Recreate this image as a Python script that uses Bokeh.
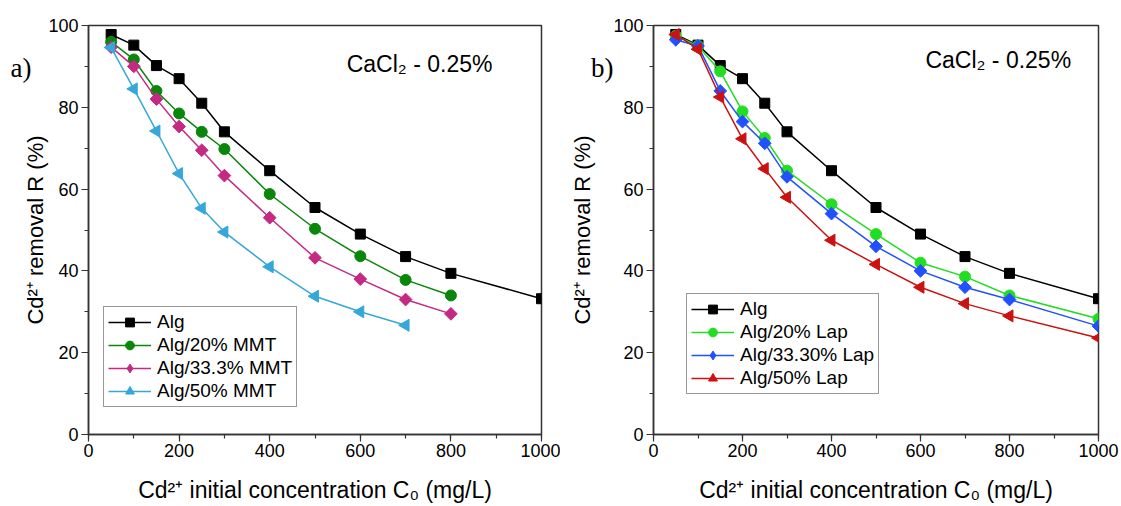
import numpy as np
from bokeh.plotting import figure
from bokeh.layouts import row
from bokeh.models import Range1d, Label, Legend, LegendItem, FixedTicker, LinearAxis
from bokeh.embed import file_html
from bokeh.resources import INLINE

# ---- data ----
c0_full = [50, 100, 150, 200, 250, 300, 400, 500, 600, 700, 800, 1000]
c0_800 = [50, 100, 150, 200, 250, 300, 400, 500, 600, 700, 800]
c0_700 = [50, 100, 150, 200, 250, 300, 400, 500, 600, 700]

alg = [97.8, 95.2, 90.2, 87.0, 81.0, 74.0, 64.5, 55.5, 49.0, 43.5, 39.4, 33.2]
alg_mmt20 = [96.0, 91.7, 84.0, 78.5, 74.0, 69.8, 58.8, 50.3, 43.6, 37.8, 34.0]
alg_mmt33 = [94.7, 90.0, 82.0, 75.3, 69.5, 63.3, 53.0, 43.2, 38.0, 33.0, 29.5]
alg_mmt50 = [94.6, 84.5, 74.2, 63.8, 55.3, 49.5, 41.0, 33.8, 30.0, 26.7]

alg_lap20 = [97.5, 95.0, 88.8, 79.0, 72.5, 64.5, 56.3, 49.0, 42.0, 38.6, 34.0, 28.3]
alg_lap33 = [96.5, 95.0, 84.0, 76.5, 71.2, 63.0, 54.0, 46.0, 40.0, 36.0, 33.0, 26.5]
alg_lap50 = [97.8, 94.2, 82.5, 72.3, 65.0, 58.0, 47.5, 41.6, 36.0, 32.0, 29.0, 23.6]

x_ticks = [0, 200, 400, 600, 800, 1000]
y_ticks = [0, 20, 40, 60, 80, 100]

FONT = "Liberation Sans"
X_TITLE = "Cd\u00b2\u207a initial concentration C\u2080 (mg/L)"
Y_TITLE = "Cd\u00b2\u207a removal R (%)"


def make_fig(width, bl, br, bt, bb):
    p = figure(width=width, height=506, output_backend="svg", toolbar_location=None,
               x_range=Range1d(0, 1000), y_range=Range1d(0, 100),
               min_border_left=bl, min_border_right=br, min_border_top=bt, min_border_bottom=bb)
    p.grid.visible = False
    p.background_fill_color = "white"
    p.border_fill_color = "white"
    p.outline_line_color = "#333333"
    p.outline_line_width = 1.5
    for ax in (p.xaxis[0], p.yaxis[0]):
        ax.axis_line_color = "#333333"
        ax.axis_line_width = 1.5
        ax.major_tick_line_color = "#333333"
        ax.minor_tick_line_color = "#333333"
        ax.major_tick_line_width = 1.2
        ax.minor_tick_line_width = 1.2
        ax.major_tick_in = 0
        ax.major_tick_out = 7
        ax.minor_tick_in = 0
        ax.minor_tick_out = 4
        ax.major_label_text_font = FONT
        ax.major_label_text_font_size = "18px"
        ax.major_label_text_color = "black"
        ax.axis_label_text_font = FONT
        ax.axis_label_text_font_style = "normal"
        ax.axis_label_text_color = "black"
    p.xaxis[0].axis_label_text_font_size = "23px"
    p.yaxis[0].axis_label_text_font_size = "22px"
    p.xaxis[0].ticker = FixedTicker(ticks=x_ticks, minor_ticks=list(range(0, 1001, 100)))
    p.yaxis[0].ticker = FixedTicker(ticks=y_ticks, minor_ticks=list(range(0, 101, 10)))
    p.xaxis[0].axis_label = X_TITLE
    p.xaxis[0].major_label_standoff = 2
    p.xaxis[0].axis_label_standoff = 17
    p.yaxis[0].major_label_standoff = 3
    p.yaxis[0].axis_label_standoff = -3
    return p


def letter_axis(letter, y_val, standoff):
    ax = LinearAxis(ticker=FixedTicker(ticks=[y_val], minor_ticks=[]),
                    major_label_overrides={y_val: letter})
    ax.axis_line_color = None
    ax.major_tick_line_color = None
    ax.minor_tick_line_color = None
    ax.major_tick_out = 0
    ax.major_tick_in = 0
    ax.major_label_standoff = standoff
    ax.major_label_text_font = "Liberation Serif"
    ax.major_label_text_font_size = "27px"
    ax.major_label_text_color = "black"
    ax.axis_label_text_font = FONT
    ax.axis_label_text_font_size = "22px"
    ax.axis_label_text_font_style = "normal"
    ax.axis_label_text_color = "black"
    return ax


def add_series(p, x, y, color, marker, size, angle=0.0, legend_marker=None):
    r_line = p.line(x, y, line_color=color, line_width=1.5)
    r_mark = p.scatter(x, y, marker=marker, size=size, fill_color=color, line_color=color, angle=angle)
    if legend_marker is None:
        return [r_line, r_mark]
    # legend swatch only: single point placed outside the visible range
    r_leg = p.scatter([-500], [-500], marker=legend_marker, size=size, fill_color=color, line_color=color)
    return [r_line, r_leg]


def style_legend(p, items, loc):
    leg = Legend(items=items, location=loc)
    leg.label_text_font = FONT
    leg.label_text_font_size = "19px"
    leg.label_text_color = "black"
    leg.glyph_width = 43
    leg.glyph_height = 22
    leg.label_height = 22
    leg.label_standoff = 6
    leg.spacing = 1
    leg.padding = 4
    leg.margin = 0
    leg.border_line_color = "#333333"
    leg.border_line_width = 1.2
    leg.background_fill_alpha = 1.0
    p.add_layout(leg)


# ---- left panel ----
p1 = make_fig(560, 88, 19, 21, 72)
p1.yaxis[0].axis_label = Y_TITLE
p1.add_layout(letter_axis("a)", 89.5, -11), "left")
BLACK = "#000000"
GREEN1 = "#0a870a"
MAGENTA = "#c42a84"
CYAN = "#35a8d8"
r1 = add_series(p1, c0_full, alg, BLACK, "square", 10)
r2 = add_series(p1, c0_800, alg_mmt20, GREEN1, "circle", 11)
r3 = add_series(p1, c0_800, alg_mmt33, MAGENTA, "square", 9, angle=np.pi / 4, legend_marker="diamond")
r4 = add_series(p1, c0_700, alg_mmt50, CYAN, "triangle", 12, angle=np.pi / 2)
style_legend(p1, [LegendItem(label="Alg", renderers=r1),
                  LegendItem(label="Alg/20% MMT", renderers=r2),
                  LegendItem(label="Alg/33.3% MMT", renderers=r3),
                  LegendItem(label="Alg/50% MMT", renderers=r4)], (15, 27))
p1.add_layout(Label(x=570, y=90.5, text="CaCl\u2082 - 0.25%", text_font=FONT, text_font_size="23px",
                    text_color="black", text_baseline="middle", text_align="left"))

# ---- right panel ----
p2 = make_fig(561, 93, 23, 25, 69)
bax = letter_axis("b)", 89.6, -3)
bax.axis_label = Y_TITLE
bax.axis_label_standoff = -7
p2.add_layout(bax, "left")
GREEN2 = "#22dd22"
BLUE = "#2250ff"
RED = "#cc1111"
s1 = add_series(p2, c0_full, alg, BLACK, "square", 10)
s2 = add_series(p2, c0_full, alg_lap20, GREEN2, "circle", 11)
s3 = add_series(p2, c0_full, alg_lap33, BLUE, "square", 9, angle=np.pi / 4, legend_marker="diamond")
s4 = add_series(p2, c0_full, alg_lap50, RED, "triangle", 12, angle=np.pi / 2)
style_legend(p2, [LegendItem(label="Alg", renderers=s1),
                  LegendItem(label="Alg/20% Lap", renderers=s2),
                  LegendItem(label="Alg/33.30% Lap", renderers=s3),
                  LegendItem(label="Alg/50% Lap", renderers=s4)], (33, 40))
p2.add_layout(Label(x=611, y=91.5, text="CaCl\u2082 - 0.25%", text_font=FONT, text_font_size="23px",
                    text_color="black", text_baseline="middle", text_align="left"))

layout = row(p1, p2)
open("out.html", "w").write(file_html(layout, INLINE))
